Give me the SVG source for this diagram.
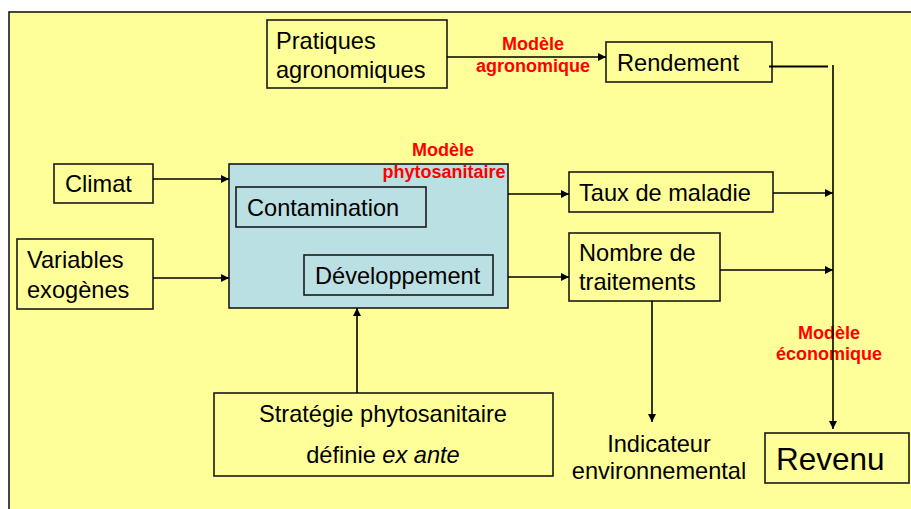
<svg xmlns="http://www.w3.org/2000/svg" width="911" height="509" viewBox="0 0 911 509">
<defs>
<marker id="ah" viewBox="0 0 10 10" refX="10" refY="5" markerWidth="9" markerHeight="8" markerUnits="userSpaceOnUse" orient="auto">
<path d="M0,0 L10,5 L0,10 z" fill="#000"/>
</marker>
<style>
.box{fill:#FFFF99;stroke:#1a1a1a;stroke-width:1.6}
.blue{fill:#BBE0E3;stroke:#1a1a1a;stroke-width:1.6}
.t{font-family:"Liberation Sans",Arial,sans-serif;font-size:23.6px;fill:#000}
.r{font-family:"Liberation Sans",Arial,sans-serif;font-size:18px;font-weight:bold;fill:#FF0000;text-anchor:middle}
.c{fill:none;stroke:#000;stroke-width:1.6}
</style>
</defs>
<rect x="0" y="0" width="911" height="509" fill="#ffffff"/>
<rect x="9" y="12" width="910" height="510" fill="#FFFF99" stroke="#1a1a1a" stroke-width="1.6"/>

<g id="pratiques">
<rect class="box" x="267" y="20" width="180" height="68"/>
<text class="t" x="276" y="49">Pratiques</text>
<text class="t" x="276" y="78">agronomiques</text>
</g>
<g id="rendement">
<rect class="box" x="606" y="42" width="166" height="40"/>
<text class="t" x="617" y="71">Rendement</text>
</g>
<g id="climat">
<rect class="box" x="54" y="164" width="99" height="39"/>
<text class="t" x="65" y="192">Climat</text>
</g>
<g id="variables">
<rect class="box" x="17" y="239" width="136" height="70"/>
<text class="t" x="27" y="268">Variables</text>
<text class="t" x="27" y="298">exogènes</text>
</g>
<g id="modele-phyto">
<rect class="blue" x="229" y="164" width="279" height="144"/>
<rect class="blue" x="236" y="187" width="190" height="40"/>
<text class="t" x="247" y="216">Contamination</text>
<rect class="blue" x="304" y="255" width="189" height="40"/>
<text class="t" x="315" y="284">Développement</text>
</g>
<g id="taux">
<rect class="box" x="569" y="172" width="204" height="40"/>
<text class="t" x="579" y="201">Taux de maladie</text>
</g>
<g id="nombre">
<rect class="box" x="569" y="233" width="151" height="68"/>
<text class="t" x="579" y="261">Nombre de</text>
<text class="t" x="579" y="290">traitements</text>
</g>
<g id="strategie">
<rect class="box" x="214" y="393" width="339" height="83"/>
<text class="t" x="383" y="422" text-anchor="middle">Stratégie phytosanitaire</text>
<text class="t" x="383" y="463" text-anchor="middle">définie <tspan font-style="italic">ex ante</tspan></text>
</g>
<g id="indicateur">
<text class="t" x="659" y="452" text-anchor="middle">Indicateur</text>
<text class="t" x="659" y="479" text-anchor="middle">environnemental</text>
</g>
<g id="revenu">
<rect class="box" x="765" y="433" width="144" height="50"/>
<text class="t" x="776" y="470" style="font-size:31.5px">Revenu</text>
</g>

<g id="labels">
<text class="r" x="533" y="50">Modèle</text>
<text class="r" x="533" y="72">agronomique</text>
<text class="r" x="443" y="156">Modèle</text>
<text class="r" x="444" y="178">phytosanitaire</text>
<text class="r" x="829" y="339">Modèle</text>
<text class="r" x="829" y="360">économique</text>
</g>

<g id="connectors">
<line class="c" x1="447" y1="57" x2="606" y2="57" marker-end="url(#ah)"/>
<line x1="769" y1="66.5" x2="828" y2="66.5" stroke="#000" stroke-width="2.2"/>
<line class="c" x1="833" y1="65" x2="833" y2="429" marker-end="url(#ah)"/>
<line class="c" x1="153" y1="179" x2="229" y2="179" marker-end="url(#ah)"/>
<line class="c" x1="153" y1="278" x2="229" y2="278" marker-end="url(#ah)"/>
<line class="c" x1="508" y1="194" x2="569" y2="194" marker-end="url(#ah)"/>
<line class="c" x1="508" y1="277" x2="569" y2="277" marker-end="url(#ah)"/>
<line class="c" x1="773" y1="193" x2="833" y2="193" marker-end="url(#ah)"/>
<line class="c" x1="720" y1="270" x2="833" y2="270" marker-end="url(#ah)"/>
<line class="c" x1="652" y1="301" x2="652" y2="422" marker-end="url(#ah)"/>
<line class="c" x1="357" y1="393" x2="357" y2="308" marker-end="url(#ah)"/>
</g>
</svg>
